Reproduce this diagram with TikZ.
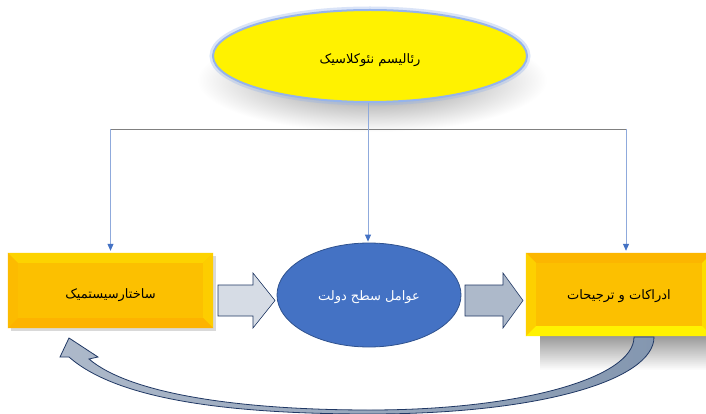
\documentclass[tikz,border=0pt]{standalone}
\usepackage{fontspec}
\newfontfamily\fafont[Script=Arabic]{DejaVu Sans}
\TeXXeTstate=1
\usetikzlibrary{arrows.meta,shapes.geometric,fadings}
\definecolor{ellblue}{RGB}{68,114,196}
\definecolor{ellrim}{RGB}{47,82,143}
\definecolor{navy}{RGB}{32,56,100}
\definecolor{linkblue}{RGB}{143,170,220}
\definecolor{tipblue}{RGB}{68,114,196}
\definecolor{glow}{RGB}{150,180,235}
\definecolor{pale}{RGB}{214,220,229}
\definecolor{steel}{RGB}{173,185,202}
\definecolor{steeldark}{RGB}{132,151,176}
\definecolor{gold}{RGB}{252,192,0}
\def\fa#1{{\fafont\beginR #1\endR}}
% bevel edges: node, top, left, right, bottom
\def\bevel#1#2#3#4#5{%
	\fill[#2] (#1.north west) -- (#1.north east) -- ([shift={(-10,10)}]#1.north east) -- ([shift={(10,10)}]#1.north west) -- cycle;
	\fill[#3] (#1.north west) -- ([shift={(10,10)}]#1.north west) -- ([shift={(10,-10)}]#1.south west) -- (#1.south west) -- cycle;
	\fill[#4] (#1.north east) -- ([shift={(-10,10)}]#1.north east) -- ([shift={(-10,-10)}]#1.south east) -- (#1.south east) -- cycle;
	\fill[#5] (#1.south west) -- ([shift={(10,-10)}]#1.south west) -- ([shift={(-10,-10)}]#1.south east) -- (#1.south east) -- cycle;}
\pgfdeclareradialshading{softshadow}{\pgfpoint{0bp}{0bp}}{color(0bp)=(black!42); color(9bp)=(black!30); color(25bp)=(white); color(50bp)=(white)}
\tikzset{
	fatext/.style={font=\fontsize{13}{15}\selectfont, inner sep=0pt},
	link/.style={line width=0.8pt, color=linkblue, -{Triangle[length=7pt,width=6pt,color=tipblue]}},
}

\begin{document}
\begin{tikzpicture}[x=1pt,y=-1pt]
		%%%%% START %%%%%
		\fill[white] (0,0) rectangle (706,414);
		\useasboundingbox (0,0) rectangle (706,414);
		
		% top ellipse with its shadow and glow
		\shade[shading=softshadow] (372,80) ellipse [x radius=175, y radius=52];
		\draw[line width=7pt, color=glow, opacity=0.35] (370,56) ellipse [x radius=157, y radius=46];
		\node[ellipse, fill=yellow, draw=glow, line width=2pt, minimum width=314, minimum height=92, inner sep=0pt, fatext] (realism) at (370,56) {};
		\node[fatext] at (370,60) {\fa{رئالیسم نئوکلاسیک}};
		
		% shadows of the boxes
		\fill[black!15] (11,256) rectangle (216,331);
		\fill[black!40, path fading=south] (540,336) rectangle (706,370);
		
		\node[rectangle, fill=gold, minimum width=205, minimum height=75, inner sep=0pt] (struct) at (110.5,290.5) {};
		\bevel{struct}{gold!70!yellow}{gold!92!orange}{gold!80!yellow}{gold!80!orange}
		\node[fatext] at (110.5,295) {\fa{ساختارسیستمیک}};
		
		\node[rectangle, fill=gold, minimum width=186, minimum height=83, inner sep=0pt] (pref) at (619,294.5) {};
		\bevel{pref}{gold!85!orange}{gold!75!yellow}{gold!55!yellow}{yellow}
		\node[fatext] at (619,296) {\fa{ادراکات و ترجیحات}};
		
		\node[ellipse, fill=ellblue, draw=ellrim, line width=0.8pt, minimum width=184, minimum height=104, inner sep=0pt] (state) at (369,295) {};
		\node[fatext, text=white] at (369,297) {\fa{عوامل سطح دولت}};
		
		% connectors from the top
		\coordinate (bus) at (368,129);
		\coordinate (preftop) at ([xshift=7]pref.north);
		\draw[line width=0.8pt, color=black!50] (struct.north |- bus) -- (preftop |- bus);
		\draw[link, shorten >=2pt] (struct.north |- bus) -- (struct.north);
		\draw[link, shorten >=2pt] (preftop |- bus) -- (preftop);
		\draw[link, shorten >=1pt] (realism.south -| bus) -- (state.north -| bus);
		
		% block arrows
		\draw[fill=pale, draw=navy, line width=0.6pt] (218,285) -- (253,285) -- (253,273) -- (275,300.5) -- (253,328) -- (253,316) -- (218,316) -- cycle;
		\draw[fill=steel, draw=navy, line width=0.6pt] (465,285) -- (503,285) -- (503,273) -- (523,300.5) -- (503,328) -- (503,316) -- (465,316) -- cycle;
		
		% curved arrow back
		\shade[left color=steel, right color=steeldark, draw=navy, line width=0.8pt]
			(654,337) .. controls (654,380) and (540,414) .. (370,414)
			.. controls (240,414) and (120,402) .. (69,357)
			-- (60,357) -- (69,338) -- (98,357) -- (89,359)
			.. controls (130,394) and (240,410) .. (370,410)
			.. controls (520,410) and (634,378) .. (634,337) -- cycle;
		
		%%%%% END %%%%%
	\end{tikzpicture}
\end{document}
